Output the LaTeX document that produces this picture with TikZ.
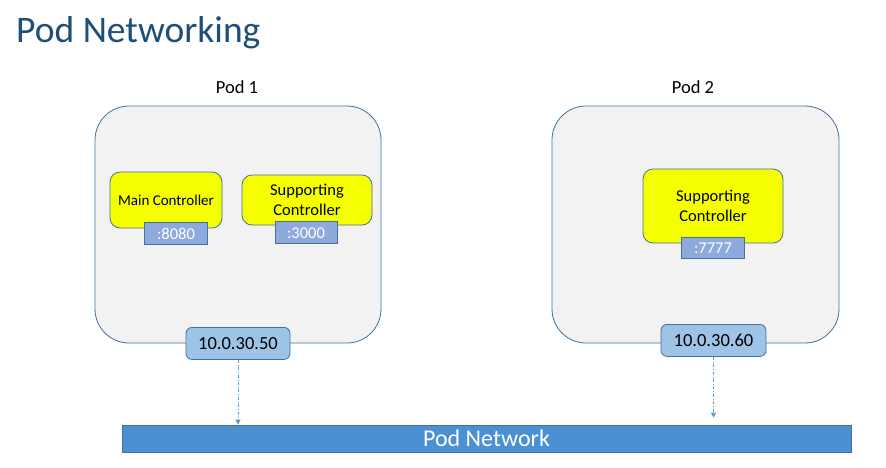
\documentclass[tikz,border=0pt]{standalone}
\usepackage{fontspec}
\setmainfont{Carlito}
\usetikzlibrary{arrows.meta, positioning}
\definecolor{titleblue}{RGB}{31,78,121}
\definecolor{edgeblue}{RGB}{65,113,156}
\definecolor{podgray}{RGB}{242,242,242}
\definecolor{ctrlyellow}{RGB}{245,255,0}
\definecolor{portblue}{RGB}{142,169,219}
\definecolor{ipblue}{RGB}{157,195,230}
\definecolor{netblue}{RGB}{74,144,211}
\definecolor{linkblue}{RGB}{91,155,213}
\tikzset{
  podbox/.style={rectangle, rounded corners=34pt, draw=edgeblue, fill=podgray,
    line width=0.8pt, minimum width=286pt, minimum height=237pt},
  ctrlbox/.style={rectangle, rounded corners=10pt, draw=edgeblue, fill=ctrlyellow,
    line width=0.8pt, align=center, font=\fontsize{16.5}{19.5}\selectfont, inner sep=2pt},
  portbox/.style={rectangle, draw=edgeblue, fill=portblue, text=white,
    line width=0.8pt, minimum width=63pt, minimum height=22pt, inner sep=0pt,
    font=\fontsize{16.5}{18}\selectfont},
  ipbox/.style={rectangle, rounded corners=6pt, draw=edgeblue, fill=ipblue,
    line width=0.8pt, minimum width=104pt, minimum height=32pt, inner sep=0pt,
    font=\fontsize{18.5}{21}\selectfont},
  podlabel/.style={font=\fontsize{18.5}{21}\selectfont},
  link/.style={-{Triangle[length=5pt, width=5pt]}, dash dot, line width=0.8pt,
    color=linkblue},
}
\begin{document}
\begin{tikzpicture}[x=1pt, y=-1pt]
  \useasboundingbox[fill=white] (0,0) rectangle (886,467);

  \node[anchor=base west, text=titleblue, font=\fontsize{37.5}{44}\selectfont, inner sep=0pt]
    (title) at (16,42) {Pod Networking};

  % pod 1
  \node[podbox] (pod1) at (238,224.5) {};
  \node[podlabel] (pod1lbl) at (237,87) {Pod 1};
  \node[ctrlbox, minimum width=112pt, minimum height=56pt, font=\fontsize{15}{18}\selectfont]
    (main) at (166,200) {Main Controller};
  \node[portbox, below=-6pt of main, xshift=10pt] (p8080) {:8080};
  \node[ctrlbox, minimum width=130pt, minimum height=50pt]
    (sup1) at (307,200) {Supporting\\Controller};
  \node[portbox, below=-4pt of sup1, xshift=-1pt, minimum width=62pt] (p3000) {:3000};
  \node[ipbox] (ip1) at (pod1.south) {10.0.30.50};

  % pod 2
  \node[podbox, minimum width=287pt] (pod2) at (695.5,224.5) {};
  \node[podlabel] (pod2lbl) at (693,87) {Pod 2};
  \node[ctrlbox, minimum width=140pt, minimum height=74pt]
    (sup2) at (713,206) {Supporting\\Controller};
  \node[portbox, below=-6pt of sup2, minimum height=21pt] (p7777) {:7777};
  \node[ipbox, minimum width=105pt, xshift=18pt, yshift=3pt] (ip2) at (pod2.south) {10.0.30.60};

  % network
  \node[rectangle, fill=netblue, draw=edgeblue, line width=0.6pt, minimum width=729pt,
    minimum height=27pt, text=white, font=\fontsize{24}{27}\selectfont]
    (net) at (486.5,438.5) {Pod Network};

  \coordinate (end2) at ([yshift=7pt]ip2.south |- net.north);
  \draw[link] (ip1.south) -- (ip1.south |- net.north);
  \draw[link] (ip2.south) -- (end2);
\end{tikzpicture}
\end{document}
